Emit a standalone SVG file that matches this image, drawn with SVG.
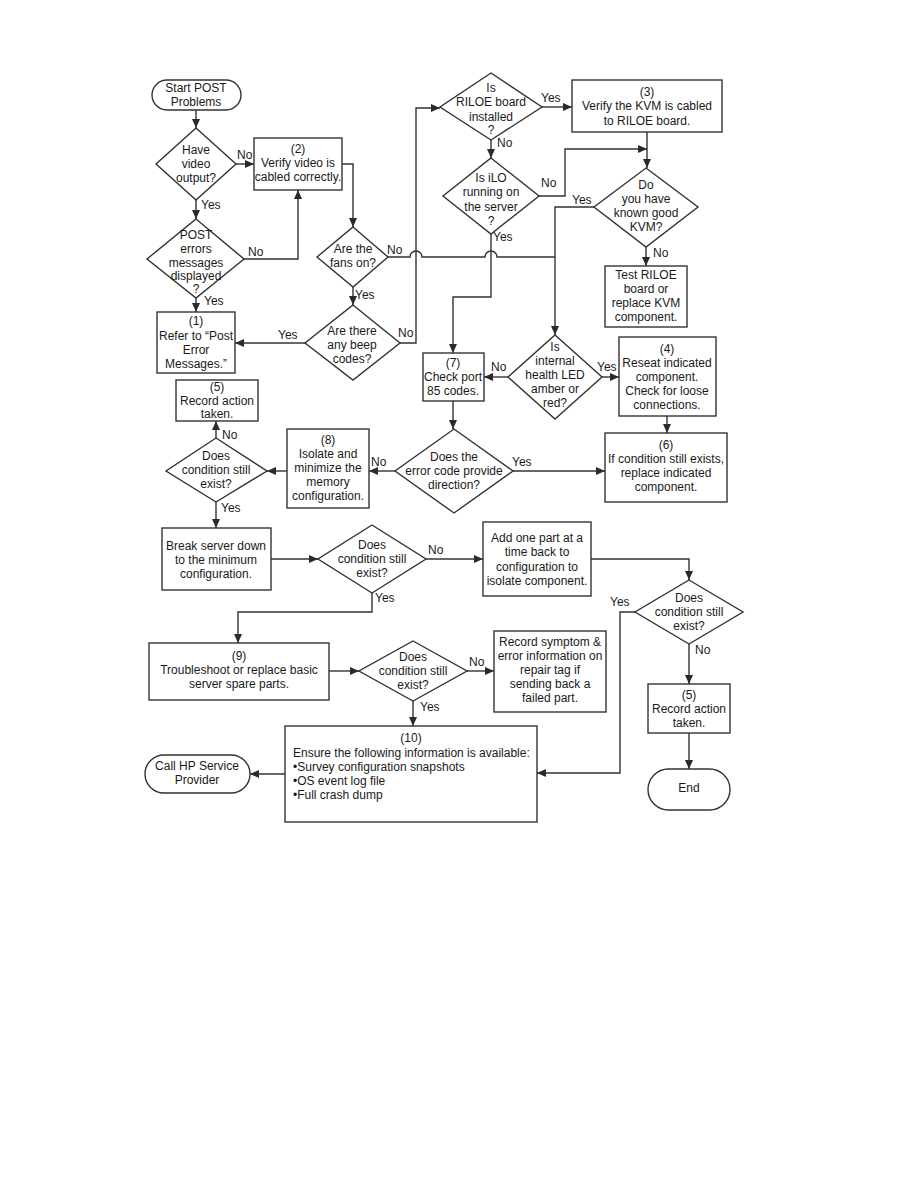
<svg xmlns="http://www.w3.org/2000/svg" width="918" height="1188" viewBox="0 0 918 1188">
<defs>
<marker id="ah" markerUnits="userSpaceOnUse" markerWidth="10" markerHeight="8" refX="9" refY="4" orient="auto">
<path d="M0,0 L9,4 L0,8 Z" fill="#2a2a2a"/>
</marker>
<style>
.s{fill:#fff;stroke:#333;stroke-width:1.4}
.c{fill:none;stroke:#333;stroke-width:1.4}
.a{marker-end:url(#ah)}
text{font-family:"Liberation Sans",Arial,sans-serif;font-size:12px;fill:#1a1a1a}
.m{text-anchor:middle}
</style>
</defs>
<rect width="918" height="1188" fill="#fff"/>
<g id="connectors">
<path class="c a" d="M196,110 V128"/>
<path class="c a" d="M236,164 H254"/>
<path class="c a" d="M196,200 V219"/>
<path class="c a" d="M244,259 H298 V190"/>
<path class="c a" d="M196,298 V312"/>
<path class="c a" d="M342,164 H353 V227"/>
<path class="c a" d="M353,287 V305"/>
<path class="c a" d="M305,343 H235"/>
<path class="c a" d="M400,343 H416 V108 H440"/>
<path class="c" d="M388,257 H410 A6,6 0 0 1 422,257 H485 A6,6 0 0 1 497,257 H555"/>
<path class="c a" d="M542,107 H572"/>
<path class="c a" d="M491,140 V158"/>
<path class="c a" d="M539,196 H565 V149 H647"/>
<path class="c a" d="M647,132 V168"/>
<path class="c a" d="M594,207 H555 V335"/>
<path class="c a" d="M646,247 V266"/>
<path class="c a" d="M491,234 V297 H453 V353"/>
<path class="c a" d="M602,377 H619"/>
<path class="c a" d="M508,377 H484"/>
<path class="c a" d="M667,416 V433"/>
<path class="c a" d="M453,401 V429"/>
<path class="c a" d="M513,471 H605"/>
<path class="c a" d="M395,471 H369"/>
<path class="c a" d="M287,471 H267"/>
<path class="c a" d="M216,438 V421"/>
<path class="c a" d="M216,502 V528"/>
<path class="c a" d="M271,559 H318"/>
<path class="c a" d="M426,559 H483"/>
<path class="c a" d="M372,593 V612 H238 V643"/>
<path class="c a" d="M591,559 H689 V580"/>
<path class="c a" d="M635,612 H620 V773 H537"/>
<path class="c a" d="M689,644 V684"/>
<path class="c a" d="M689,733 V769"/>
<path class="c a" d="M329,671 H359"/>
<path class="c a" d="M467,671 H494"/>
<path class="c a" d="M413,701 V726"/>
<path class="c a" d="M285,774 H250"/>
</g>
<g id="labels">
<text x="237" y="159">No</text>
<text x="201" y="209">Yes</text>
<text x="248" y="256">No</text>
<text x="204" y="305">Yes</text>
<text x="278" y="339">Yes</text>
<text x="387" y="254">No</text>
<text x="355" y="299">Yes</text>
<text x="398" y="337">No</text>
<text x="497" y="147">No</text>
<text x="541" y="102">Yes</text>
<text x="493" y="241">Yes</text>
<text x="541" y="187">No</text>
<text x="572" y="204">Yes</text>
<text x="653" y="257">No</text>
<text x="597" y="371">Yes</text>
<text x="491" y="371">No</text>
<text x="222" y="439">No</text>
<text x="221" y="512">Yes</text>
<text x="371" y="466">No</text>
<text x="512" y="466">Yes</text>
<text x="428" y="554">No</text>
<text x="375" y="602">Yes</text>
<text x="610" y="606">Yes</text>
<text x="695" y="654">No</text>
<text x="469" y="666">No</text>
<text x="420" y="711">Yes</text>
</g>
<g id="start"><rect class="s" x="152" y="80" width="89" height="30" rx="15"/><text class="m" x="196" y="92">Start POST</text><text class="m" x="196" y="106">Problems</text></g>
<g id="q-video"><path class="s" d="M196,128 L236,164 L196,200 L156,164 Z"/><text class="m" x="196" y="154">Have</text><text class="m" x="196" y="168">video</text><text class="m" x="196" y="182">output?</text></g>
<g id="n2"><rect class="s" x="254" y="138" width="88" height="52"/><text class="m" x="298" y="153">(2)</text><text class="m" x="298" y="167">Verify video is</text><text class="m" x="298" y="181">cabled correctly.</text></g>
<g id="q-post"><path class="s" d="M196,219 L244,259 L196,298 L147,259 Z"/><text class="m" x="196" y="239">POST</text><text class="m" x="196" y="253">errors</text><text class="m" x="196" y="267">messages</text><text class="m" x="196" y="280">displayed</text><text class="m" x="196" y="293">?</text></g>
<g id="n1"><rect class="s" x="157" y="312" width="78" height="61"/><text class="m" x="196" y="325">(1)</text><text class="m" x="196" y="340">Refer to “Post</text><text class="m" x="196" y="354">Error</text><text class="m" x="196" y="368">Messages.”</text></g>
<g id="n5a"><rect class="s" x="176" y="380" width="82" height="41"/><text class="m" x="217" y="391">(5)</text><text class="m" x="217" y="405">Record action</text><text class="m" x="217" y="418">taken.</text></g>
<g id="q-fans"><path class="s" d="M353,227 L388,257 L353,287 L317,257 Z"/><text class="m" x="353" y="253">Are the</text><text class="m" x="353" y="267">fans on?</text></g>
<g id="q-beep"><path class="s" d="M353,305 L400,343 L353,380 L305,343 Z"/><text class="m" x="352" y="335">Are there</text><text class="m" x="352" y="349">any beep</text><text class="m" x="352" y="363">codes?</text></g>
<g id="q-riloe"><path class="s" d="M491,73 L542,107 L491,140 L440,107 Z"/><text class="m" x="491" y="92">Is</text><text class="m" x="491" y="106">RILOE board</text><text class="m" x="491" y="121">installed</text><text class="m" x="491" y="134">?</text></g>
<g id="n3"><rect class="s" x="572" y="80" width="150" height="52"/><text class="m" x="647" y="96">(3)</text><text class="m" x="647" y="110">Verify the KVM is cabled</text><text class="m" x="647" y="125">to RILOE board.</text></g>
<g id="q-ilo"><path class="s" d="M491,158 L539,196 L491,234 L443,196 Z"/><text class="m" x="491" y="182">Is iLO</text><text class="m" x="491" y="196">running on</text><text class="m" x="491" y="211">the server</text><text class="m" x="491" y="225">?</text></g>
<g id="q-kvm"><path class="s" d="M646,168 L698,207 L646,247 L594,207 Z"/><text class="m" x="646" y="189">Do</text><text class="m" x="646" y="203">you have</text><text class="m" x="646" y="217">known good</text><text class="m" x="646" y="231">KVM?</text></g>
<g id="n-test"><rect class="s" x="605" y="266" width="82" height="61"/><text class="m" x="646" y="279">Test RILOE</text><text class="m" x="646" y="293">board or</text><text class="m" x="646" y="307">replace KVM</text><text class="m" x="646" y="321">component.</text></g>
<g id="q-health"><path class="s" d="M555,335 L602,377 L555,419 L508,377 Z"/><text class="m" x="555" y="351">Is</text><text class="m" x="555" y="365">internal</text><text class="m" x="555" y="379">health LED</text><text class="m" x="555" y="393">amber or</text><text class="m" x="555" y="407">red?</text></g>
<g id="n4"><rect class="s" x="619" y="337" width="97" height="79"/><text class="m" x="667" y="353">(4)</text><text class="m" x="667" y="367">Reseat indicated</text><text class="m" x="667" y="381">component.</text><text class="m" x="667" y="395">Check for loose</text><text class="m" x="667" y="409">connections.</text></g>
<g id="n7"><rect class="s" x="423" y="353" width="61" height="48"/><text class="m" x="453" y="367">(7)</text><text class="m" x="453" y="381">Check port</text><text class="m" x="453" y="395">85 codes.</text></g>
<g id="n6"><rect class="s" x="605" y="433" width="122" height="69"/><text class="m" x="666" y="449">(6)</text><text class="m" x="666" y="463">If condition still exists,</text><text class="m" x="666" y="477">replace indicated</text><text class="m" x="666" y="491">component.</text></g>
<g id="q-error"><path class="s" d="M454,429 L513,471 L454,513 L395,471 Z"/><text class="m" x="454" y="461">Does the</text><text class="m" x="454" y="475">error code provide</text><text class="m" x="454" y="489">direction?</text></g>
<g id="n8"><rect class="s" x="287" y="429" width="82" height="79"/><text class="m" x="328" y="444">(8)</text><text class="m" x="328" y="458">Isolate and</text><text class="m" x="328" y="472">minimize the</text><text class="m" x="328" y="486">memory</text><text class="m" x="328" y="500">configuration.</text></g>
<g id="q-cond1"><path class="s" d="M216,438 L267,471 L216,502 L166,471 Z"/><text class="m" x="216" y="460">Does</text><text class="m" x="216" y="474">condition still</text><text class="m" x="216" y="488">exist?</text></g>
<g id="n-break"><rect class="s" x="162" y="528" width="109" height="62"/><text class="m" x="216" y="550">Break server down</text><text class="m" x="216" y="564">to the minimum</text><text class="m" x="216" y="578">configuration.</text></g>
<g id="q-cond2"><path class="s" d="M372,525 L426,559 L372,593 L318,559 Z"/><text class="m" x="372" y="549">Does</text><text class="m" x="372" y="563">condition still</text><text class="m" x="372" y="577">exist?</text></g>
<g id="n-add"><rect class="s" x="483" y="522" width="108" height="74"/><text class="m" x="537" y="542">Add one part at a</text><text class="m" x="537" y="556">time back to</text><text class="m" x="537" y="571">configuration to</text><text class="m" x="537" y="585">isolate component.</text></g>
<g id="q-cond3"><path class="s" d="M689,580 L743,612 L689,644 L635,612 Z"/><text class="m" x="689" y="602">Does</text><text class="m" x="689" y="616">condition still</text><text class="m" x="689" y="630">exist?</text></g>
<g id="n5b"><rect class="s" x="648" y="684" width="82" height="49"/><text class="m" x="689" y="699">(5)</text><text class="m" x="689" y="713">Record action</text><text class="m" x="689" y="727">taken.</text></g>
<g id="end"><rect class="s" x="648" y="769" width="82" height="41" rx="20.5"/><text class="m" x="689" y="792">End</text></g>
<g id="n9"><rect class="s" x="149" y="643" width="180" height="57"/><text class="m" x="239" y="660">(9)</text><text class="m" x="239" y="674">Troubleshoot or replace basic</text><text class="m" x="239" y="688">server spare parts.</text></g>
<g id="q-cond4"><path class="s" d="M413,641 L467,671 L413,701 L359,671 Z"/><text class="m" x="413" y="661">Does</text><text class="m" x="413" y="675">condition still</text><text class="m" x="413" y="689">exist?</text></g>
<g id="n-record"><rect class="s" x="494" y="631" width="112" height="81"/><text class="m" x="550" y="646">Record symptom &amp;</text><text class="m" x="550" y="660">error information on</text><text class="m" x="550" y="674">repair tag if</text><text class="m" x="550" y="688">sending back a</text><text class="m" x="550" y="702">failed part.</text></g>
<g id="n10"><rect class="s" x="285" y="726" width="252" height="96"/><text class="m" x="411" y="742">(10)</text><text x="293" y="757">Ensure the following information is available:</text><text x="293" y="771">•Survey configuration snapshots</text><text x="293" y="785">•OS event log file</text><text x="293" y="799">•Full crash dump</text></g>
<g id="call-hp"><rect class="s" x="145" y="755" width="105" height="38" rx="19"/><text class="m" x="197" y="770">Call HP Service</text><text class="m" x="197" y="784">Provider</text></g>
</svg>
